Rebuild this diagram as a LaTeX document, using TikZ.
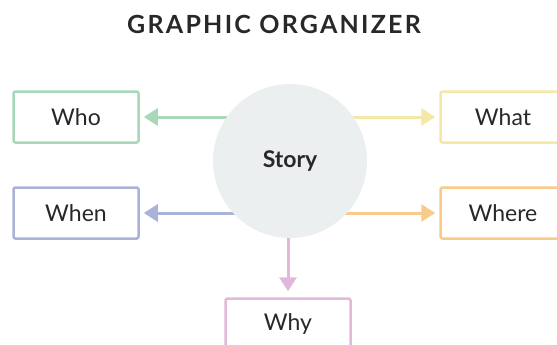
\documentclass[tikz,border=0pt]{standalone}
\usepackage{fontspec}
\setmainfont{Lato}
\newfontfamily\titlefont[LetterSpace=9]{Lato}
\usepackage{tikz}
\usetikzlibrary{arrows.meta, positioning, backgrounds}
\definecolor{txtdark}{RGB}{40,40,42}
\definecolor{whogreen}{RGB}{168,216,185}
\definecolor{whenblue}{RGB}{169,179,216}
\definecolor{whatyellow}{RGB}{245,231,166}
\definecolor{whereorange}{RGB}{248,203,138}
\definecolor{whypink}{RGB}{226,184,218}
\definecolor{storyfill}{RGB}{235,239,240}
\tikzset{
  qbox/.style={rectangle, draw=#1, fill=white, line width=2.5pt,
    minimum width=125pt, minimum height=51pt, rounded corners=2pt,
    font=\fontsize{23}{25}\selectfont, text=txtdark},
  qarrow/.style={-{Triangle[length=14pt, width=17pt]}, line width=3pt, color=#1}
}

\begin{document}
\begin{tikzpicture}[x=1pt, y=-1pt]
  \useasboundingbox (0,0) rectangle (557,345);

  \node[font=\titlefont\bfseries\fontsize{25}{27}\selectfont, text=txtdark] (title) at (274,24) {GRAPHIC ORGANIZER};

  \node[circle, fill=storyfill, minimum size=154pt, inner sep=0pt,
    font=\bfseries\fontsize{23}{25}\selectfont, text=txtdark] (story) at (290,161) {Story};

  \node[qbox=whogreen] (who) at (76,117) {Who};
  \node[qbox=whenblue] (when) at (76,213) {When};
  \node[qbox=whatyellow] (what) at (503,117) {What};
  \node[qbox=whereorange] (where) at (503,213) {Where};
  \node[qbox=whypink] (why) at (288,324) {Why};

  % connectors start under the circle
  \begin{scope}[on background layer]
    \draw[qarrow=whogreen, shorten >=4pt] (story.center |- who.east) -- (who.east);
    \draw[qarrow=whenblue, shorten >=4pt] (story.center |- when.east) -- (when.east);
    \draw[qarrow=whatyellow, shorten >=4pt] (story.center |- what.west) -- (what.west);
    \draw[qarrow=whereorange, shorten >=4pt] (story.center |- where.west) -- (where.west);
    \draw[qarrow=whypink, shorten >=6pt] (why.north |- story.center) -- (why.north);
  \end{scope}

\end{tikzpicture}
\end{document}
